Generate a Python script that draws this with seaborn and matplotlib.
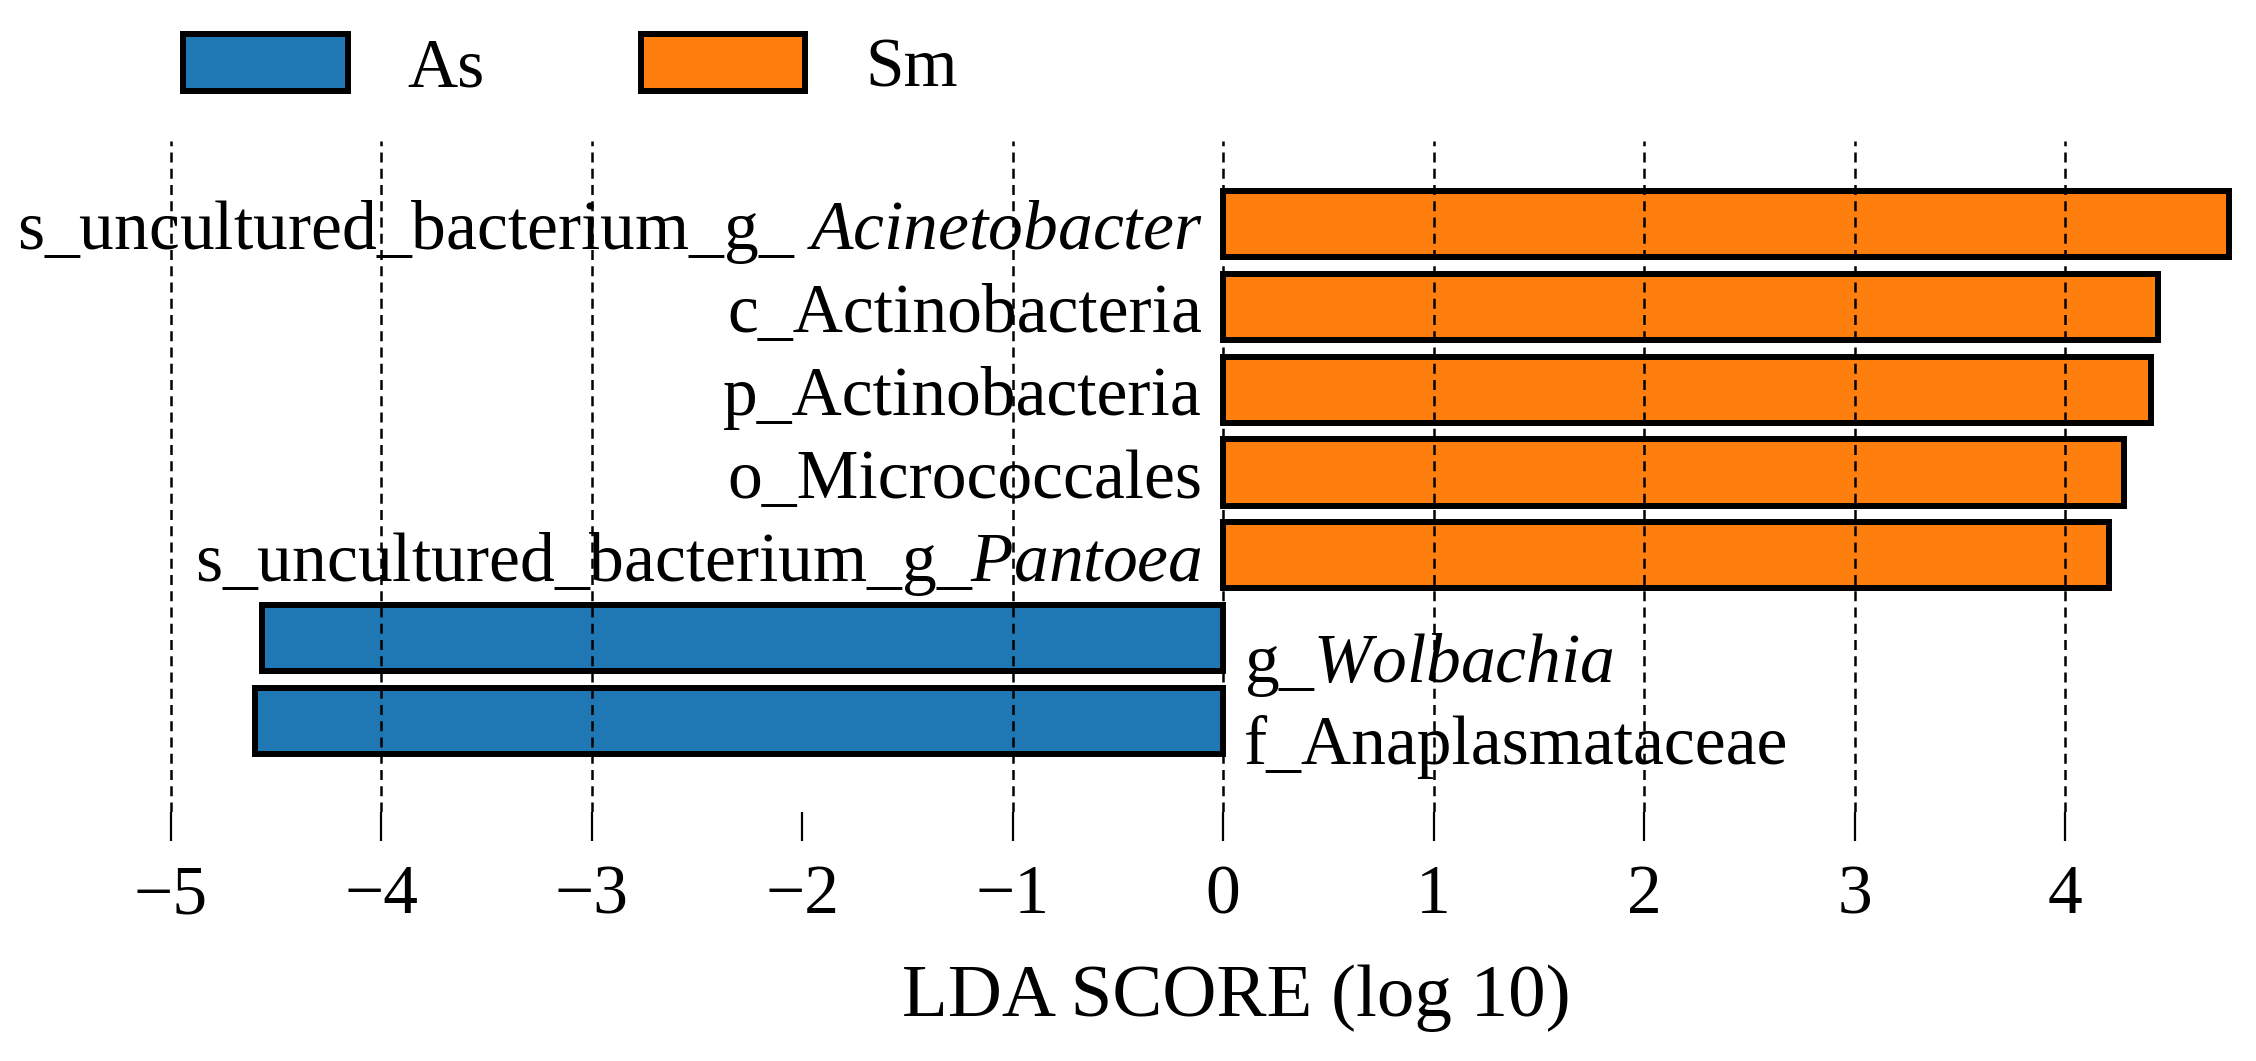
import matplotlib
matplotlib.use("Agg")
import matplotlib.pyplot as plt
from matplotlib.patches import Patch
import seaborn as sns
import pandas as pd

# LDA scores
features = [
    "s_uncultured_bacterium_g_ $\\mathit{Acinetobacter}$",
    "c_Actinobacteria",
    "p_Actinobacteria",
    "o_Micrococcales",
    "s_uncultured_bacterium_g_$\\mathit{Pantoea}$",
    "g_$\\mathit{Wolbachia}$",
    "f_Anaplasmataceae",
]
scores = [4.78, 4.44, 4.41, 4.28, 4.21, -4.565, -4.60]
groups = ["Sm", "Sm", "Sm", "Sm", "Sm", "As", "As"]
group_order = ["As", "Sm"]
group_colors = {"As": "#1f77b4", "Sm": "#ff7f0e"}
xticks = [-5, -4, -3, -2, -1, 0, 1, 2, 3, 4]
grid_x = [-5, -4, -3, -1, 0, 1, 2, 3, 4]

sns.set_style("white")
plt.rcParams["font.family"] = ["Liberation Serif", "DejaVu Serif"]
plt.rcParams["mathtext.fontset"] = "custom"
plt.rcParams["mathtext.rm"] = "Liberation Serif"
plt.rcParams["mathtext.it"] = "Liberation Serif:italic"
plt.rcParams["text.color"] = "black"
plt.rcParams["axes.labelcolor"] = "black"
plt.rcParams["xtick.color"] = "black"
fs = 50

df = pd.DataFrame({"feature": features, "score": scores, "group": groups})

fig = plt.figure(figsize=(22.56, 10.61), dpi=100)
ax = fig.add_axes([0.0663, 0.2347, 0.9517, 0.632])

sns.barplot(data=df, x="score", y="feature", hue="group", hue_order=group_order,
            palette=group_colors, saturation=1, dodge=False, width=0.8,
            edgecolor="black", linewidth=4.3, legend=False, ax=ax, zorder=2)

for gx in grid_x:
    ax.axvline(gx, color="black", lw=1.8, ls=(0, (4, 2.5)), zorder=3)

ax.set_xlim(-5.1, 5.1)
ax.set_ylim(len(features) - 1 + 1.1, -1.0)
ax.set_xticks(xticks)
ax.set_yticks([])
ax.set_ylabel("")
ax.tick_params(axis="x", direction="out", length=21, width=1.6, pad=17,
               labelsize=fs, bottom=True)
ax.set_xlabel("LDA SCORE (log 10)", fontsize=54)
ax.xaxis.set_label_coords(0.506, -0.228)
for s in ax.spines.values():
    s.set_visible(False)

# names next to the zero line
for i, (name, val) in enumerate(zip(features, scores)):
    if val > 0:
        ax.text(-0.1, i + 0.1, name, ha="right", va="center", fontsize=fs)
    else:
        ax.text(0.1, i + 0.32, name, ha="left", va="center", fontsize=fs)

handles = [Patch(facecolor=group_colors[g], edgecolor="black", linewidth=4.3)
           for g in group_order]
fig.legend(handles, group_order, loc="upper left",
           bbox_to_anchor=(183 / 2256, 1 - 34 / 1061), ncol=2, frameon=False,
           fontsize=fs, borderpad=0, handlelength=2.37, handleheight=0.88,
           handletextpad=0.86, columnspacing=2.25, borderaxespad=0)

fig.savefig("out.png", dpi=100)
